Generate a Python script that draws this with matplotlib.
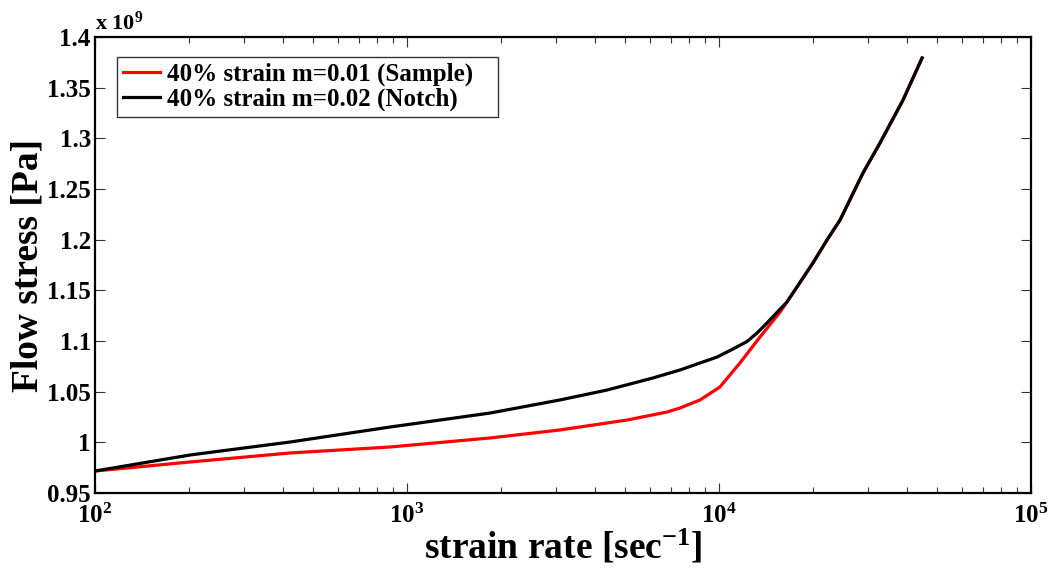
import math
import matplotlib
matplotlib.use("Agg")
import matplotlib.pyplot as plt
from matplotlib.ticker import FixedLocator, FuncFormatter, LogLocator, NullFormatter

plt.rcParams['font.family'] = ['Liberation Serif', 'DejaVu Serif']
plt.rcParams['font.weight'] = 'bold'
plt.rcParams['mathtext.fontset'] = 'custom'
plt.rcParams['mathtext.rm'] = 'Liberation Serif:bold'
plt.rcParams['mathtext.bf'] = 'Liberation Serif:bold'
plt.rcParams['mathtext.it'] = 'Liberation Serif:bold'
plt.rcParams['mathtext.default'] = 'rm'

# strain rate [1/s]
rate_notch = [100, 201.6, 421.7, 882, 1845, 3090, 4375, 6140, 7500, 8690, 9860,
              11090, 12300, 13200, 14250, 16510, 17780, 20000, 22190, 24430, 28940,
              32810, 38890, 44760]
# flow stress [x1e9 Pa]
stress_notch = [0.9717, 0.9875, 1.0003, 1.0151, 1.0289, 1.0418, 1.0516, 1.0635, 1.0714,
                1.0783, 1.0842, 1.0921, 1.0995, 1.1075, 1.1178, 1.1385, 1.1533, 1.1770,
                1.1997, 1.2194, 1.2658, 1.2954, 1.3378, 1.3793]

rate_sample = [100, 201.6, 421.7, 882, 1845, 3090, 5070, 6810, 7500, 8690, 10070,
               11670, 13530, 15700, 16510, 17780, 20000, 22190, 24430, 28940, 32810,
               38890, 44760]
stress_sample = [0.9717, 0.9806, 0.9895, 0.9954, 1.0043, 1.0122, 1.0220, 1.0299, 1.0339,
                 1.0418, 1.0546, 1.0783, 1.1039, 1.1286, 1.1385, 1.1533, 1.1770, 1.1997,
                 1.2194, 1.2658, 1.2954, 1.3378, 1.3793]

label_sample = '40% strain m=0.01 (Sample)'
label_notch = '40% strain m=0.02 (Notch)'
y_ticks = [0.95, 1.0, 1.05, 1.1, 1.15, 1.2, 1.25, 1.3, 1.35, 1.4]
x_ticks = [1e2, 1e3, 1e4, 1e5]
scale = 1e9

fig = plt.figure(figsize=(10.53, 5.81), dpi=100)
ax = fig.add_axes([95/1053, 1-493/581, (1031-95)/1053, (493-37)/581])

ax.plot(rate_sample, [v*scale for v in stress_sample], color='#ff0000', lw=2.3,
        label=label_sample + '   ', solid_joinstyle='round')
ax.plot(rate_notch, [v*scale for v in stress_notch], color='black', lw=2.3,
        label=label_notch, solid_joinstyle='round')

ax.set_xscale('log')
ax.set_xlim(1e2, 1e5)
ax.set_ylim(0.95*scale, 1.4*scale)
ax.xaxis.set_major_locator(FixedLocator(x_ticks))
ax.xaxis.set_major_formatter(FuncFormatter(lambda v, p: r'$10^{%d}$' % round(math.log10(v))))
ax.xaxis.set_minor_locator(LogLocator(base=10, subs=range(2, 10)))
ax.xaxis.set_minor_formatter(NullFormatter())
ax.yaxis.set_major_locator(FixedLocator([v*scale for v in y_ticks]))
ax.yaxis.set_major_formatter(FuncFormatter(lambda v, p: '%g' % round(v/scale, 2)))

ax.tick_params(which='both', direction='in', top=True, right=True, labelsize=18,
               width=0.8, color='#333333')
ax.tick_params(which='major', length=7)
ax.tick_params(which='minor', length=4)
ax.tick_params(axis='x', pad=8)
ax.tick_params(axis='y', pad=3)
for s in ax.spines.values():
    s.set_linewidth(1.6)

ax.set_xlabel('strain rate [sec$^{-1}$]', fontsize=27, fontweight='bold', labelpad=0)
ax.set_ylabel('Flow stress [Pa]', fontsize=27, fontweight='bold', labelpad=1)

fig.text(95/1053, 1-30/581, r'x $10^{9}$', fontsize=16, fontweight='bold',
         ha='left', va='baseline')

leg = ax.legend(loc='upper left', bbox_to_anchor=(0.023, 0.957), fontsize=18,
                frameon=True, fancybox=False, edgecolor='black', handlelength=1.5,
                handletextpad=0.25, borderpad=0.25, labelspacing=0.05, borderaxespad=0)
leg.get_frame().set_linewidth(1.0)
for t in leg.get_texts():
    t.set_fontweight('bold')

fig.savefig('out.png', dpi=100)
